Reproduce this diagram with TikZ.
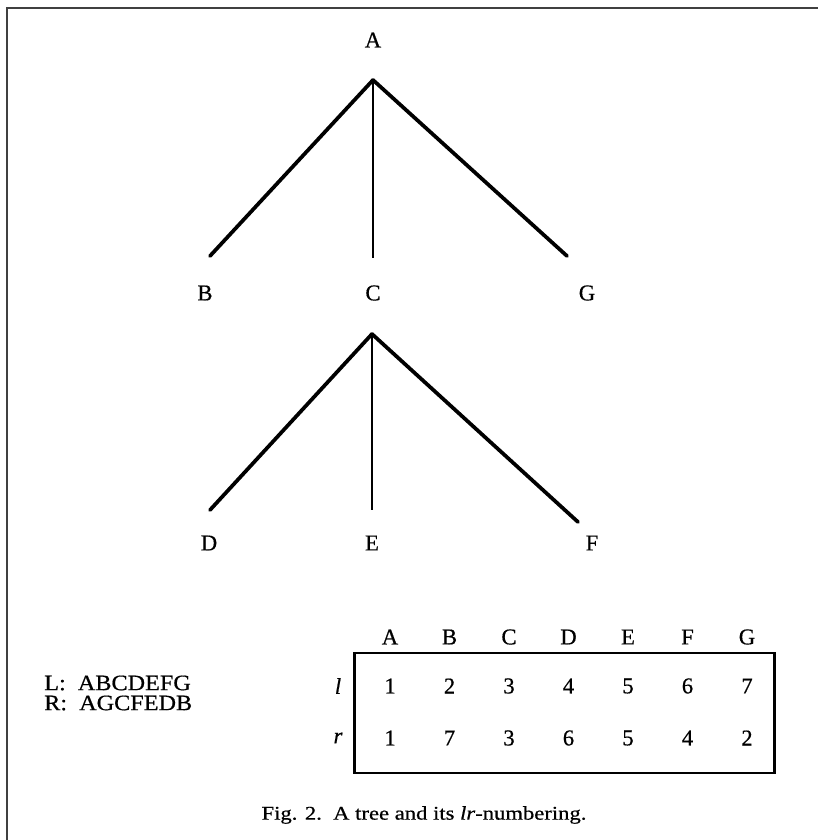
\documentclass[tikz,border=0pt]{standalone}
\usepackage{fontspec}
\usepackage{graphicx}
\setmainfont{Liberation Serif}[FakeBold=0.6]
\begin{document}
\begin{tikzpicture}[x=0.75pt,y=-0.75pt,
  lbl/.style={font=\fontsize{17}{20}\selectfont, inner sep=0pt, anchor=center},
  txt/.style={font=\fontsize{16.5}{18}\selectfont, inner sep=0pt, anchor=west},
  captext/.style={font=\fontsize{14.5}{16}\selectfont, inner sep=0pt},
  edge/.style={line width=2.8pt, line cap=round},
  vedge/.style={line width=1.5pt},
  frame/.style={line width=1.1pt, black!75}]
\useasboundingbox (0,0) rectangle (818,840);
% frame
\draw[frame] (7,840) -- (7,8) -- (818,8);
% tree 1
\node[lbl] (A) at (373,40) {A};
\coordinate (a0) at (373,80);
\coordinate (b0) at (210,256);
\coordinate (c0) at (373,258);
\coordinate (g0) at (567,256);
\draw[edge] (a0) -- (b0);
\draw[edge] (a0) -- (g0);
\draw[vedge] (a0) -- (c0);
\node[lbl] (B) at (205,293) {B};
\node[lbl] (C) at (373,293) {C};
\node[lbl] (G) at (587,293) {G};
% tree 2
\coordinate (c1) at (372,334);
\coordinate (d0) at (210,510);
\coordinate (e0) at (372,510);
\coordinate (f0) at (578,522);
\draw[edge] (c1) -- (d0);
\draw[edge] (c1) -- (f0);
\draw[vedge] (c1) -- (e0);
\node[lbl] (D) at (209,543) {D};
\node[lbl] (E) at (372,543) {E};
\node[lbl] (F) at (592,543) {F};
% table
\foreach \n [count=\i from 0] in {A,B,C,D,E,F,G}
  \node[lbl] (h\n) at ({390+59.5*\i},637) {\n};
\foreach \v [count=\i from 0] in {1,2,3,4,5,6,7}
  \node[lbl] (l\i) at ({390+59.5*\i},686) {\v};
\foreach \v [count=\i from 0] in {1,7,3,6,5,4,2}
  \node[lbl] (r\i) at ({390+59.5*\i},738) {\v};
\node[lbl] (lrow) at (338,686) {\itshape l};
\node[lbl] (rrow) at (338,738) {\itshape r};
\node[draw, line width=2pt, inner sep=0pt, minimum width={420*0.75pt}, minimum height={120*0.75pt}] (box) at (564.5,713) {};
% sequences
\node[txt] (Lseq) at (44,683) {\scalebox{1.1}[1]{L:\ \ ABCDEFG}};
\node[txt] (Rseq) at (44,703) {\scalebox{1.1}[1]{R:\ \ AGCFEDB}};
% caption
\node[captext] (caption) at (424,815) {\scalebox{1.17}[1]{Fig. 2.\ \ A tree and its \textit{lr}-numbering.}};
\end{tikzpicture}
\end{document}
